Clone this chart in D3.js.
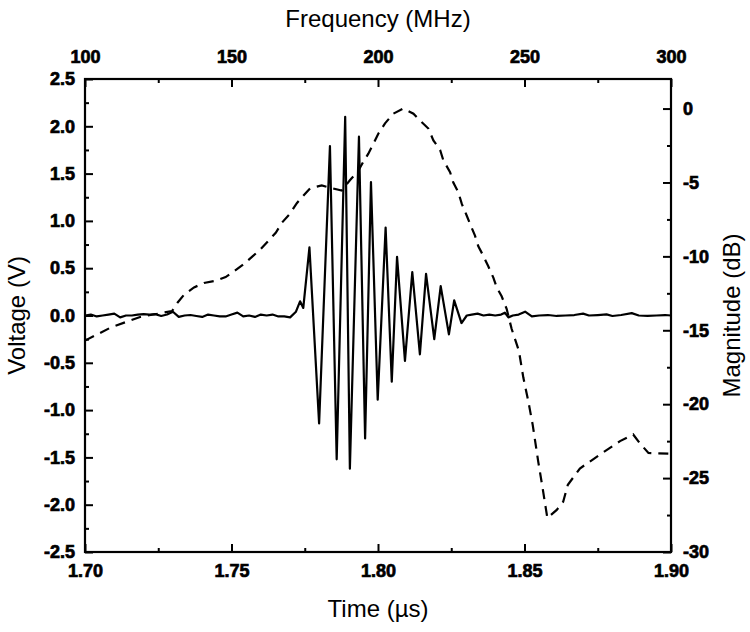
<!DOCTYPE html>
<html>
<head>
<meta charset="utf-8">
<script src="https://cdn.jsdelivr.net/npm/d3@7"></script>
<style>
  html, body { margin: 0; padding: 0; background: #fff; }
  svg { display: block; }
</style>
</head>
<body>
<svg id="chart" width="750" height="632"></svg>
<script>
// ---- Data ----
const timeUs = [
  1.700,1.702,1.704,1.706,1.708,1.710,1.712,1.714,1.716,1.718,1.720,1.722,1.724,1.726,1.728,1.730,1.732,1.734,
  1.736,1.738,1.740,1.742,1.744,1.746,1.748,1.750,1.752,1.754,1.756,1.758,1.760,1.762,1.764,1.766,1.768,1.770,
  1.7720,1.7734,1.7745,1.7766,1.7799,1.7836,1.7859,1.7888,1.7904,1.7935,1.7956,1.7976,1.7999,1.8026,1.8047,
  1.8065,1.8092,1.8117,1.8143,1.8164,1.8192,1.8214,1.8242,1.8260,1.8285,1.8303,
  1.832,1.834,1.836,1.838,1.840,1.842,1.8433,1.8445,1.846,1.848,1.8502,1.8525,1.855,1.858,1.861,1.864,1.867,
  1.870,1.872,1.875,1.878,1.880,1.883,1.8866,1.889,1.892,1.895,1.898,1.900
];
const voltage = [
  0.00,0.01,-0.01,0.00,0.01,0.02,-0.02,0.00,0.00,0.01,0.015,0.01,0.015,-0.005,0.01,0.04,-0.015,0.00,
  0.005,-0.005,-0.015,0.01,0.00,-0.01,-0.01,0.01,0.03,-0.01,0.00,-0.015,0.01,0.00,0.01,-0.01,-0.01,-0.02,
  0.04,0.15,0.08,0.72,-1.14,1.79,-1.52,2.10,-1.62,1.89,-1.30,1.41,-0.89,0.93,-0.70,
  0.62,-0.48,0.46,-0.41,0.44,-0.25,0.31,-0.20,0.16,-0.08,0.00,
  0.01,0.02,0.00,0.01,0.00,0.01,0.03,-0.02,0.00,0.01,0.04,-0.01,0.00,0.005,-0.005,0.00,0.005,
  0.02,0.00,0.005,0.012,-0.005,0.005,0.025,0.00,-0.005,0.00,0.005,0.00
];
const freqMHz = [
  100,108.9,118.8,129.7,131.7,133.8,137.2,140.6,144.6,148.0,150.9,153.7,156.6,160.0,162.8,165.1,167.3,170.0,
  172.3,174.5,176.8,180.8,183.6,187.6,190.4,193.3,195.0,196.7,198.4,200.1,202.4,205.2,208.6,212.1,214.3,217.2,
  218.9,221.2,222.3,224.6,225.7,227.4,228.6,230.3,231.4,233.1,234.2,235.9,237.6,239.4,240.5,242.2,243.9,245.6,
  248.1,249.6,251.3,252.8,254.7,256.2,257.8,261.0,263.2,264.8,268.9,275.8,282.6,287.1,289.4,292.3,300
];
const magnitudeDb = [
  -15.7,-14.8,-14.1,-13.7,-13.1,-12.6,-12.1,-11.8,-11.65,-11.4,-11.0,-10.6,-10.1,-9.5,-8.9,-8.4,-7.7,-7.1,
  -6.4,-5.9,-5.4,-5.2,-5.35,-5.55,-4.85,-4.2,-3.6,-3.05,-2.4,-1.7,-1.0,-0.35,0.0,-0.35,-0.8,-1.35,
  -2.15,-2.8,-3.5,-4.3,-5.0,-5.65,-6.45,-7.25,-7.8,-8.6,-9.3,-9.95,-10.65,-11.45,-12.1,-12.7,-13.55,-14.9,
  -16.4,-18.2,-19.8,-21.4,-23.9,-25.7,-27.7,-27.15,-26.6,-25.45,-24.35,-23.4,-22.5,-22.05,-22.65,-23.3,-23.35
];
const voltTicks = [-2.5,-2.0,-1.5,-1.0,-0.5,0.0,0.5,1.0,1.5,2.0,2.5];
const timeTicks = [1.70,1.75,1.80,1.85,1.90];
const freqTicks = [100,150,200,250,300];
const dbTicks = [-30,-25,-20,-15,-10,-5,0];

// ---- Layout ----
const L = 85, R = 671, T = 79, B = 552;
const FONT = '"Liberation Sans", Arial, sans-serif';
const svg = d3.select("#chart");

const x = d3.scaleLinear().domain([1.70, 1.90]).range([L, R]);
const xf = d3.scaleLinear().domain([100, 300]).range([L, R]);
const y = d3.scaleLinear().domain([-2.5, 2.5]).range([B, T]);
const yd = d3.scaleLinear().domain([-30, 2]).range([B, T]);

const minorT = [1.725, 1.775, 1.825, 1.875];
const minorF = [125, 175, 225, 275];
const minorV = [-2.25,-1.75,-1.25,-0.75,-0.25,0.25,0.75,1.25,1.75,2.25];
const minorD = [-27.5,-22.5,-17.5,-12.5,-7.5,-2.5];

const hy = f => (v => f(v).replace("\u2212", "-"));

function styleAxis(g) {
  g.select(".domain").remove();
  g.selectAll(".tick line").attr("stroke", "#000").attr("stroke-width", 2);
  g.selectAll(".tick text")
    .attr("font-family", FONT).attr("font-weight", "700")
    .attr("font-size", 18).attr("fill", "#000")
    .attr("stroke", "#000").attr("stroke-width", 0.7)
    .attr("paint-order", "stroke");
}

// Major axes (inward ticks)
svg.append("g").attr("transform", `translate(0,${B})`)
  .call(d3.axisBottom(x).tickValues(timeTicks).tickSize(-8).tickPadding(12).tickFormat(hy(d3.format(".2f"))))
  .call(styleAxis);
svg.append("g").attr("transform", `translate(0,${T})`)
  .call(d3.axisTop(xf).tickValues(freqTicks).tickSize(-8).tickPadding(16).tickFormat(hy(d3.format("d"))))
  .call(styleAxis);
svg.append("g").attr("transform", `translate(${L},0)`)
  .call(d3.axisLeft(y).tickValues(voltTicks).tickSize(-8).tickPadding(10).tickFormat(hy(d3.format(".1f"))))
  .call(styleAxis);
svg.append("g").attr("transform", `translate(${R},0)`)
  .call(d3.axisRight(yd).tickValues(dbTicks).tickSize(-8).tickPadding(12).tickFormat(hy(d3.format("d"))))
  .call(styleAxis);

// Minor axes
svg.append("g").attr("transform", `translate(0,${B})`)
  .call(d3.axisBottom(x).tickValues(minorT).tickSize(-4).tickFormat("")).call(styleAxis);
svg.append("g").attr("transform", `translate(0,${T})`)
  .call(d3.axisTop(xf).tickValues(minorF).tickSize(-4).tickFormat("")).call(styleAxis);
svg.append("g").attr("transform", `translate(${L},0)`)
  .call(d3.axisLeft(y).tickValues(minorV).tickSize(-4).tickFormat("")).call(styleAxis);
svg.append("g").attr("transform", `translate(${R},0)`)
  .call(d3.axisRight(yd).tickValues(minorD).tickSize(-4).tickFormat("")).call(styleAxis);

// Data lines
const sig = timeUs.map((t, i) => [t, voltage[i]]);
const mag = freqMHz.map((f, i) => [f, magnitudeDb[i]]);

svg.append("path")
  .datum(mag)
  .attr("fill", "none").attr("stroke", "#000").attr("stroke-width", 2.2)
  .attr("stroke-dasharray", "10,7")
  .attr("d", d3.line().x(d => xf(d[0])).y(d => yd(d[1])));

svg.append("path")
  .datum(sig)
  .attr("fill", "none").attr("stroke", "#000").attr("stroke-width", 2.2)
  .attr("stroke-linejoin", "round")
  .attr("d", d3.line().x(d => x(d[0])).y(d => y(d[1])));

// Frame
svg.append("rect").attr("x", L).attr("y", T).attr("width", R - L).attr("height", B - T)
  .attr("fill", "none").attr("stroke", "#000").attr("stroke-width", 2.2);

// Titles
function title(sel) {
  return sel.attr("font-family", FONT).attr("font-size", 24).attr("fill", "#000")
    .attr("text-anchor", "middle");
}
svg.append("text").attr("x", (L + R) / 2).attr("y", 27).call(title).text("Frequency (MHz)");
svg.append("text").attr("x", (L + R) / 2).attr("y", 617).call(title).text("Time (µs)");
svg.append("text").attr("transform", `translate(25,${(T + B) / 2}) rotate(-90)`).call(title).text("Voltage (V)");
svg.append("text").attr("transform", `translate(740,${(T + B) / 2}) rotate(-90)`).call(title).text("Magnitude (dB)");
</script>
</body>
</html>
